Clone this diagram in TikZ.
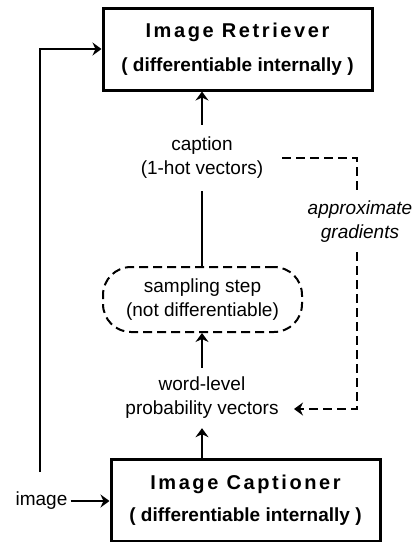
\documentclass[tikz,border=0pt]{standalone}
\usepackage{fontspec}
\setmainfont{Liberation Sans}
\usetikzlibrary{arrows.meta}
\tikzset{
  mainbox/.style={draw, line width=3pt, minimum width=269pt, minimum height=82pt, inner sep=0pt, align=center, font=\fontsize{19}{22}\selectfont\bfseries},
  dashbox/.style={draw, line width=2pt, dash pattern=on 9pt off 5pt, rounded corners=28pt, minimum width=199pt, minimum height=65pt, inner sep=0pt, align=center, font=\fontsize{19}{24}\selectfont},
  lbl/.style={inner sep=0pt, align=center, font=\fontsize{19}{24}\selectfont},
  conn/.style={line width=2pt},
  arr/.style={line width=2pt, -{Stealth[length=9pt, width=13pt, inset=3pt]}},
  dasharr/.style={line width=2pt, dash pattern=on 9pt off 5pt},
}
\newcommand{\boxtitle}[1]{{\fontsize{20}{22}\selectfont\bfseries\addfontfeatures{LetterSpace=13}#1}}
\newcommand{\boxsub}[1]{{\fontsize{19}{22}\selectfont\bfseries #1}}
\begin{document}
\begin{tikzpicture}[x=1pt, y=-1pt]
\useasboundingbox (0,0) rectangle (419,542);
% boxes
\node[mainbox] (ret) at (237.5,49) {\boxtitle{Image Retriever}\\[12pt]\boxsub{( differentiable internally )}};
\node[mainbox] (cap2) at (245.5,500) {\boxtitle{Image Captioner}\\[10pt]\boxsub{( differentiable internally )}};
\node[dashbox] (samp) at (202.5,299.5) {sampling step\\(not differentiable)};
% labels
\node[lbl, minimum height=66pt] (cap) at (202,158) {caption\\(1-hot vectors)};
\node[lbl, minimum height=60pt] (prob) at (202,398) {word-level\\probability vectors};
\node[lbl, font=\fontsize{19}{24}\selectfont\itshape, minimum height=60pt] (grad) at (360,222) {approximate\\gradients};
\node[lbl] (img) at (41.5,501) {image};
% coordinates
\coordinate (corner) at (40,472);
\coordinate (gstart) at (282,158);
\coordinate (gend) at (294,409);
% connectors
\draw[arr] (cap.north) -- (ret.south -| cap.north);
\draw[conn] (cap.south) -- (samp.north -| cap.south);
\draw[arr] (prob.south |- cap2.north) -- (prob.south);
\draw[arr] (prob.north) -- (samp.south -| prob.north);
\draw[arr, shorten <=3pt] (img.east) -- (img.east -| cap2.west);
\draw[arr] (corner) -- (corner |- ret.west) -- (ret.west);
\draw[dasharr] (gstart) -| ([xshift=-3pt]grad.north);
\draw[dasharr, -{Stealth[length=9pt, width=13pt, inset=3pt]}] ([xshift=-3pt]grad.south) |- (gend);
\end{tikzpicture}
\end{document}
